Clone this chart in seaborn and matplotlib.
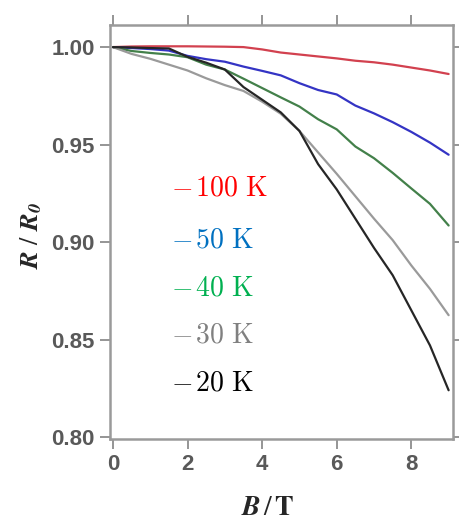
import matplotlib
matplotlib.use('Agg')
import matplotlib.pyplot as plt
import seaborn as sns
import pandas as pd

# magnetic field (T)
field_T = [0.0, 0.5, 1.0, 1.5, 2.0, 2.5, 3.0, 3.5, 4.0, 4.5,
           5.0, 5.5, 6.0, 6.5, 7.0, 7.5, 8.0, 8.5, 9.0]

# normalised resistance R/R0 at each temperature
r_100K = [1.000, 1.0003, 1.0004, 1.0004, 1.0004, 1.0003, 1.0002, 1.0000, 0.9988, 0.9972,
          0.9962, 0.9952, 0.9942, 0.9930, 0.9922, 0.9910, 0.9895, 0.9880, 0.9862]
r_50K = [1.000, 0.9995, 0.9990, 0.9982, 0.9955, 0.9938, 0.9925, 0.9900, 0.9878, 0.9855,
         0.9815, 0.9780, 0.9757, 0.9700, 0.9660, 0.9615, 0.9565, 0.9510, 0.9448]
r_40K = [1.000, 0.9980, 0.9970, 0.9962, 0.9948, 0.9910, 0.9885, 0.9838, 0.9790, 0.9742,
         0.9695, 0.9630, 0.9578, 0.9490, 0.9430, 0.9355, 0.9275, 0.9196, 0.9085]
r_30K = [1.000, 0.9965, 0.9940, 0.9910, 0.9880, 0.9840, 0.9805, 0.9775, 0.9720, 0.9658,
         0.9570, 0.9460, 0.9350, 0.9235, 0.9120, 0.9010, 0.8880, 0.8760, 0.8625]
r_20K = [1.000, 0.9998, 0.9995, 0.9993, 0.9950, 0.9920, 0.9885, 0.9795, 0.9730, 0.9665,
         0.9570, 0.9400, 0.9270, 0.9120, 0.8970, 0.8830, 0.8650, 0.8470, 0.8240]

temp_labels = ['100 K', '50 K', '40 K', '30 K', '20 K']
line_colors = ['#d2414f', '#3434c4', '#43804a', '#9a9a9a', '#262626']
text_colors = ['#ff0000', '#0070c0', '#00b050', '#808080', '#000000']

series = [r_100K, r_50K, r_40K, r_30K, r_20K]
df = pd.concat([pd.DataFrame({'B': field_T, 'R': vals, 'T': lab})
                for lab, vals in zip(temp_labels, series)], ignore_index=True)

sns.set_style('ticks')
plt.rcParams['font.family'] = ['Liberation Sans', 'DejaVu Sans']

fig = plt.figure(figsize=(4.6, 5.22), dpi=100)
ax = fig.add_axes([0.239, 0.159, 0.746, 0.793])

sns.lineplot(data=df, x='B', y='R', hue='T', hue_order=temp_labels,
             palette=dict(zip(temp_labels, line_colors)), estimator=None,
             linewidth=1.6, legend=False, ax=ax)

ax.set_xlim(-0.08, 9.12)
ax.set_ylim(0.799, 1.0113)
ax.set_xticks([0, 2, 4, 6, 8])
ax.set_yticks([0.80, 0.85, 0.90, 0.95, 1.00])
ax.set_yticklabels([f'{v:.2f}' for v in [0.80, 0.85, 0.90, 0.95, 1.00]])
ax.set_xlabel('')
ax.set_ylabel('')
ax.tick_params(direction='out', length=7, width=1.3, color='#8c8c8c',
               top=True, right=True, labeltop=False, labelright=False,
               labelsize=16, labelcolor='#595959', pad=4)
for lbl in ax.get_xticklabels() + ax.get_yticklabels():
    lbl.set_fontweight('bold')
for sp in ax.spines.values():
    sp.set_color('#9a9a9a')
    sp.set_linewidth(1.8)

# coloured labels next to the curves
label_y = [0.9274, 0.9010, 0.8760, 0.8520, 0.8275]
for lab, col, yy in zip(temp_labels, text_colors, label_y):
    num, unit = lab.split()
    ax.text(1.55, yy, r'$-\hspace{0.12}\mathrm{' + num + r'\ ' + unit + '}$', color=col,
            fontsize=20, math_fontfamily='cm', ha='left', va='center')

fig.text(31 / 460, 1 - 235 / 522, r'$\mathbfit{R}\ /\ \mathbfit{R}_{\mathbfit{0}}$',
         rotation=90, ha='center', va='center', fontsize=19, math_fontfamily='stix')
fig.text(268 / 460, 1 - 508 / 522, r'$\mathbfit{B}\,/\,\mathbf{T}$',
         ha='center', va='center', fontsize=20, math_fontfamily='stix')

fig.savefig('out.png', dpi=100)
